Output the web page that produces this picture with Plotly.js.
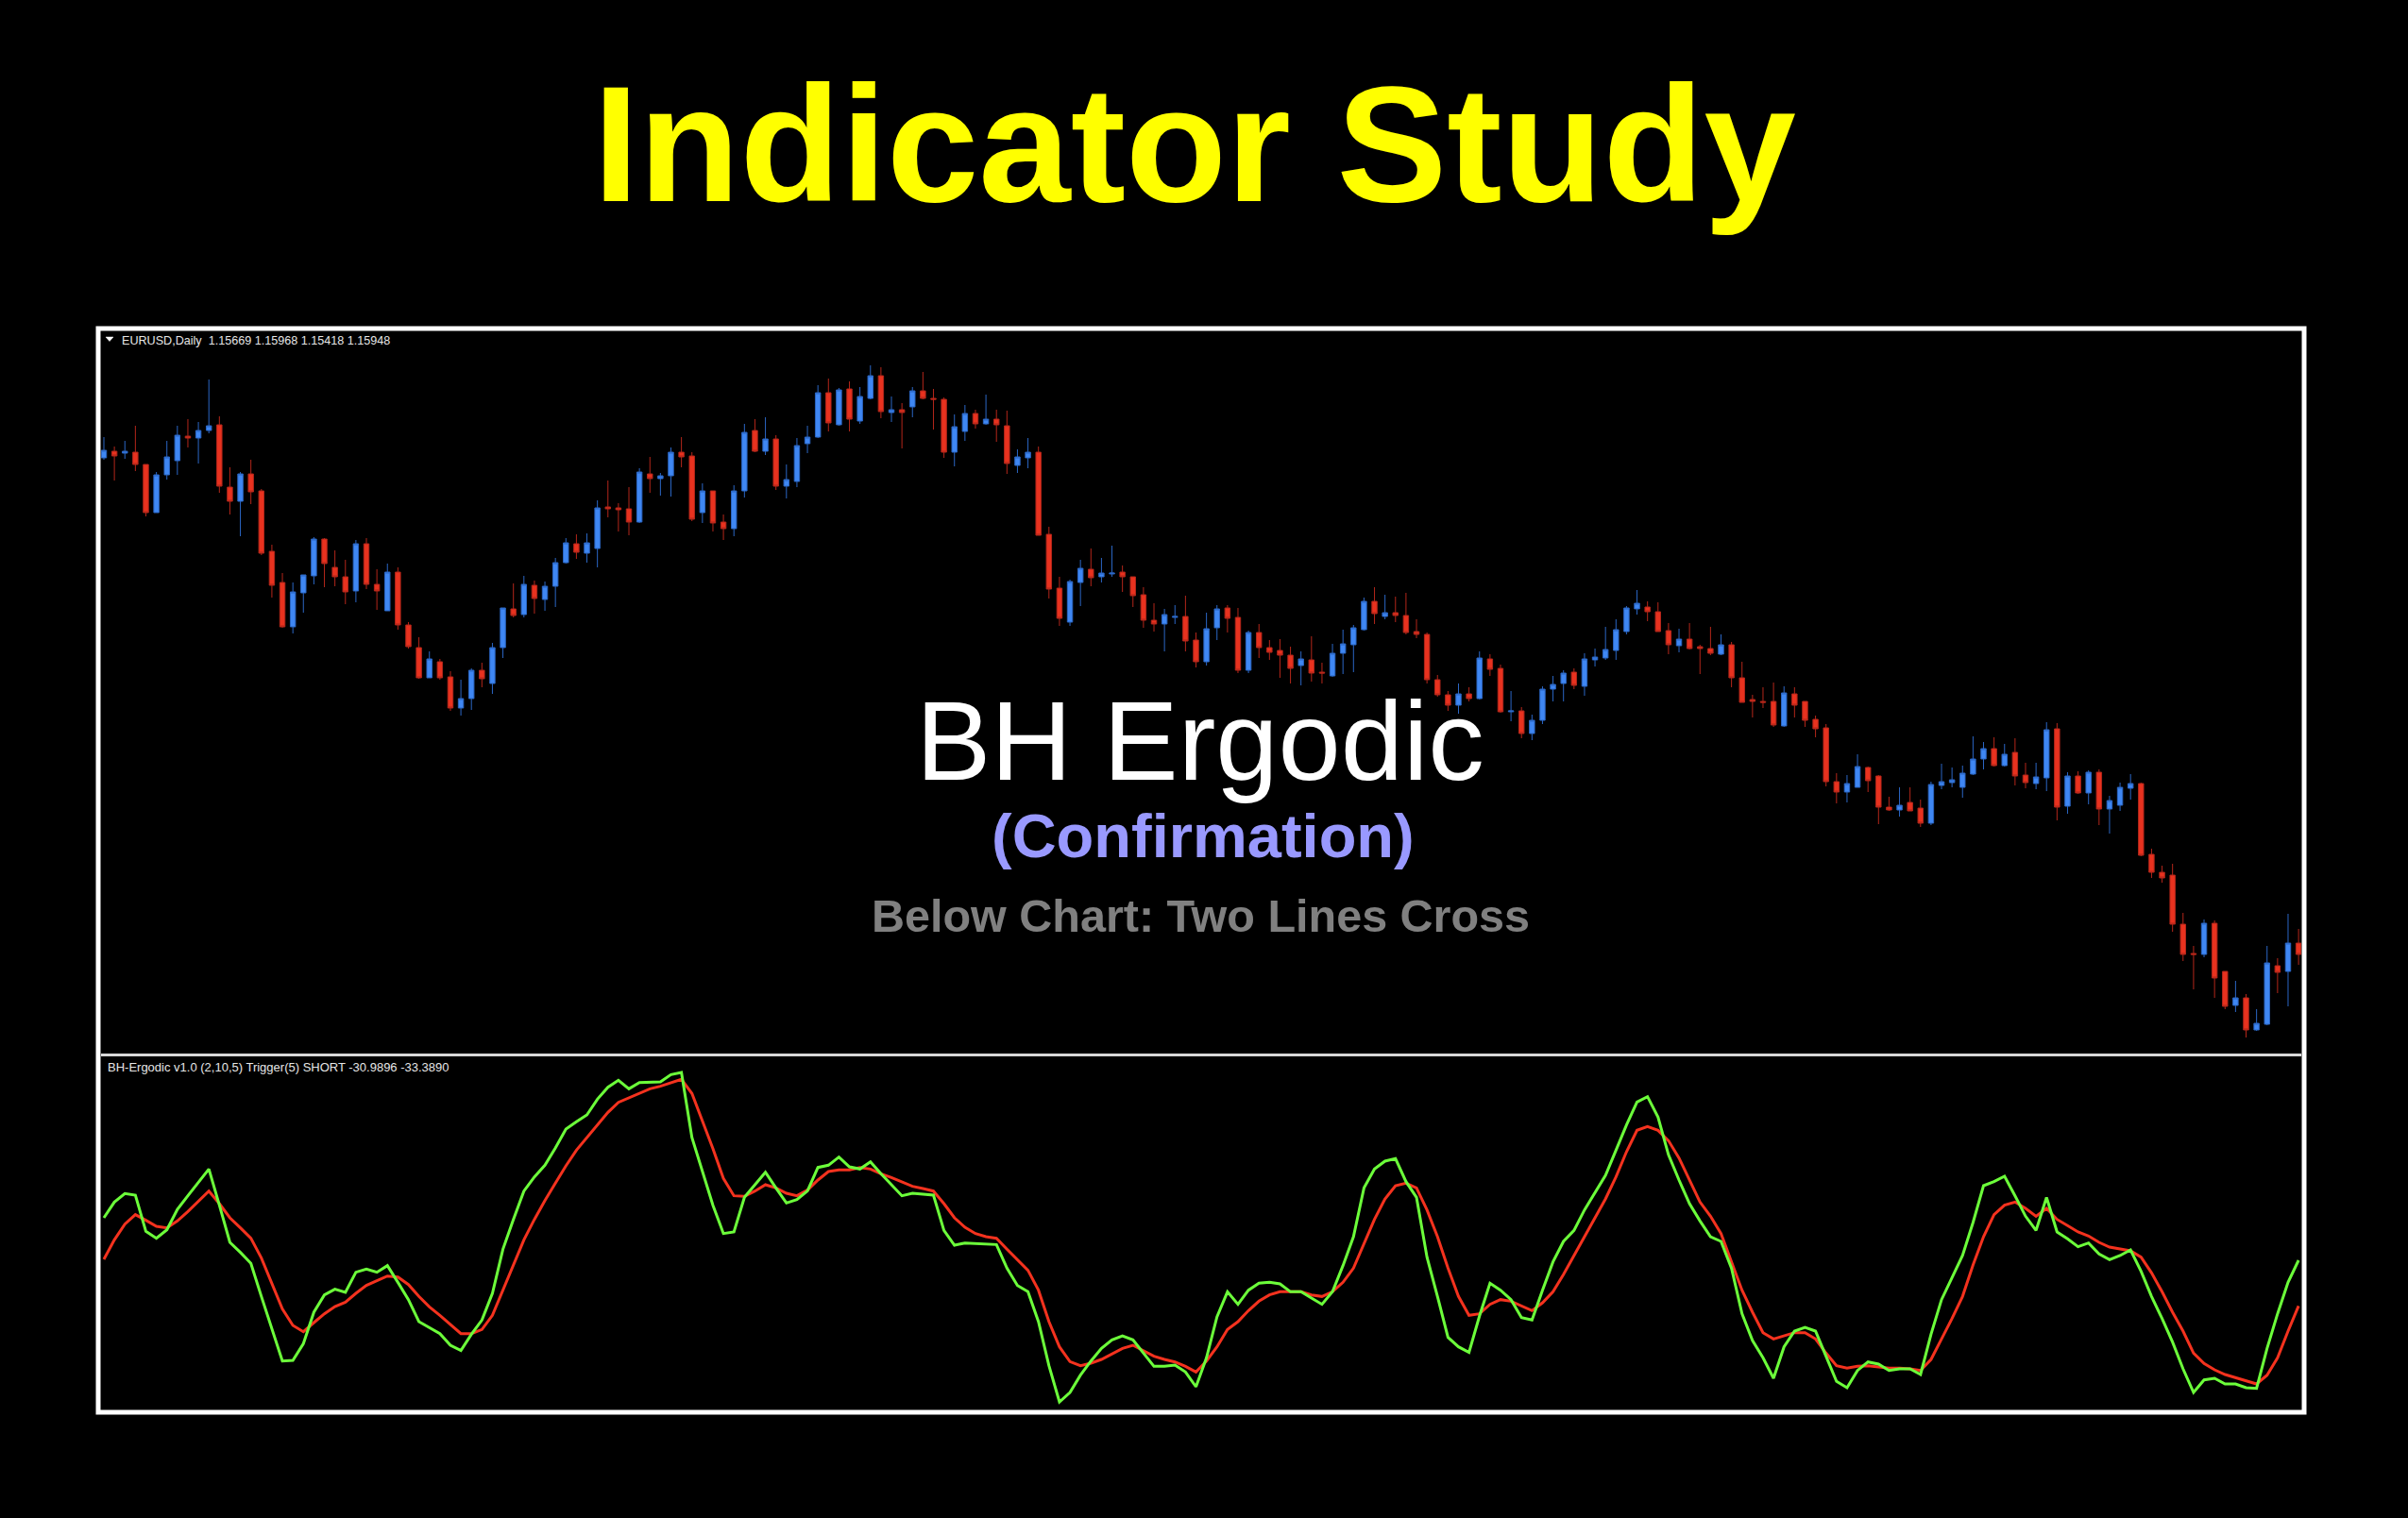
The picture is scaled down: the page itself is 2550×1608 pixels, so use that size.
<!DOCTYPE html>
<html><head><meta charset="utf-8">
<script src="https://cdn.plot.ly/plotly-3.0.1.min.js"></script>
<style>html,body{margin:0;padding:0;background:#000;}#chart{width:2550px;height:1608px;}</style>
</head><body><div id="chart"></div>
<script>
// ---- data ----
const headerText = "EURUSD,Daily\u00a0\u00a01.15669 1.15968 1.15418 1.15948";
const indicatorText = "BH-Ergodic v1.0 (2,10,5) Trigger(5) SHORT -30.9896 -33.3890";

const openP = [1.2121,1.2128,1.2126,1.2127,1.2114,1.2063,1.2103,1.2118,1.2144,1.2142,
1.2150,1.2156,1.2090,1.2075,1.2104,1.2086,1.2022,1.1989,1.1942,1.1978,
1.1996,1.2035,1.2005,1.1995,1.1980,1.2030,1.1987,1.1959,1.2000,1.1944,
1.1920,1.1888,1.1905,1.1889,1.1856,1.1866,1.1896,1.1882,1.1920,1.1961,
1.1955,1.1986,1.1971,1.1985,1.2010,1.2030,1.2020,1.2025,1.2069,1.2068,
1.2067,1.2053,1.2104,1.2099,1.2102,1.2127,1.2123,1.2063,1.2086,1.2053,
1.2046,1.2086,1.2150,1.2128,1.2141,1.2091,1.2096,1.2136,1.2143,1.2190,
1.2156,1.2194,1.2160,1.2184,1.2208,1.2169,1.2172,1.2175,1.2192,1.2184,
1.2183,1.2127,1.2149,1.2168,1.2157,1.2162,1.2155,1.2113,1.2121,1.2127,
1.2040,1.1983,1.1947,1.1989,1.2003,1.1995,1.1998,1.2000,1.1995,1.1976,
1.1949,1.1945,1.1952,1.1953,1.1928,1.1905,1.1941,1.1962,1.1952,1.1896,
1.1936,1.1920,1.1917,1.1912,1.1901,1.1907,1.1894,1.1890,1.1914,1.1923,
1.1939,1.1969,1.1953,1.1957,1.1954,1.1937,1.1934,1.1886,1.1870,1.1859,
1.1871,1.1866,1.1908,1.1898,1.1852,1.1853,1.1829,1.1843,1.1876,1.1882,
1.1894,1.1879,1.1907,1.1909,1.1917,1.1937,1.1961,1.1963,1.1958,1.1938,
1.1922,1.1929,1.1921,1.1919,1.1913,1.1923,1.1888,1.1865,1.1863,1.1863,
1.1837,1.1871,1.1863,1.1844,1.1835,1.1778,1.1767,1.1772,1.1793,1.1784,
1.1751,1.1748,1.1756,1.1750,1.1734,1.1774,1.1777,1.1772,1.1786,1.1802,
1.1813,1.1795,1.1809,1.1785,1.1776,1.1782,1.1834,1.1752,1.1784,1.1766,
1.1788,1.1749,1.1753,1.1771,1.1776,1.1701,1.1682,1.1679,1.1627,1.1596,
1.1595,1.1628,1.1577,1.1541,1.1549,1.1515,1.1521,1.1583,1.1577,1.1607];

const highP = [1.2143,1.2133,1.2139,1.2155,1.2114,1.2106,1.2139,1.2155,1.2162,1.2159,
1.2204,1.2165,1.2111,1.2106,1.2119,1.2088,1.2029,1.1999,1.1989,1.1997,
1.2037,1.2036,1.2023,1.2013,1.2034,1.2036,1.2003,1.2009,1.2005,1.1947,
1.1931,1.1916,1.1908,1.1895,1.1886,1.1898,1.1904,1.1925,1.1962,1.1988,
1.1996,1.1991,1.1990,1.2015,1.2036,1.2040,1.2041,1.2076,1.2097,1.2073,
1.2090,1.2110,1.2122,1.2105,1.2132,1.2143,1.2127,1.2094,1.2086,1.2061,
1.2092,1.2157,1.2162,1.2164,1.2145,1.2114,1.2142,1.2155,1.2198,1.2205,
1.2195,1.2202,1.2196,1.2219,1.2217,1.2186,1.2179,1.2196,1.2212,1.2194,
1.2185,1.2167,1.2177,1.2172,1.2188,1.2172,1.2171,1.2130,1.2142,1.2133,
1.2048,1.1995,1.1992,1.2013,1.2025,1.2015,1.2028,1.2007,1.1995,1.1984,
1.1967,1.1961,1.1965,1.1975,1.1936,1.1957,1.1965,1.1965,1.1962,1.1938,
1.1945,1.1928,1.1929,1.1921,1.1916,1.1932,1.1904,1.1924,1.1939,1.1944,
1.1973,1.1984,1.1976,1.1974,1.1978,1.1950,1.1936,1.1891,1.1874,1.1882,
1.1878,1.1916,1.1913,1.1902,1.1874,1.1857,1.1849,1.1879,1.1890,1.1896,
1.1898,1.1914,1.1919,1.1942,1.1950,1.1964,1.1981,1.1969,1.1968,1.1946,
1.1940,1.1946,1.1923,1.1942,1.1934,1.1926,1.1905,1.1870,1.1878,1.1883,
1.1879,1.1878,1.1863,1.1848,1.1839,1.1787,1.1785,1.1807,1.1794,1.1785,
1.1762,1.1772,1.1772,1.1759,1.1778,1.1797,1.1793,1.1795,1.1826,1.1820,
1.1825,1.1818,1.1824,1.1798,1.1798,1.1841,1.1840,1.1788,1.1789,1.1790,
1.1791,1.1763,1.1777,1.1786,1.1777,1.1707,1.1689,1.1691,1.1639,1.1604,
1.1632,1.1631,1.1577,1.1567,1.1553,1.1537,1.1604,1.1591,1.1638,1.1622];

const lowP = [1.2119,1.2097,1.2120,1.2107,1.2059,1.2063,1.2098,1.2103,1.2132,1.2115,
1.2147,1.2084,1.2061,1.2038,1.2072,1.2018,1.1973,1.1941,1.1935,1.1957,
1.1987,1.1984,1.1985,1.1966,1.1968,1.1982,1.1960,1.1959,1.1939,1.1919,
1.1887,1.1888,1.1886,1.1853,1.1848,1.1854,1.1878,1.1871,1.1909,1.1952,
1.1952,1.1956,1.1959,1.1963,1.2009,1.2014,1.2010,1.2005,1.2058,1.2043,
1.2039,1.2052,1.2084,1.2081,1.2080,1.2111,1.2054,1.2052,1.2043,1.2034,
1.2038,1.2079,1.2127,1.2124,1.2087,1.2078,1.2090,1.2126,1.2142,1.2149,
1.2155,1.2149,1.2157,1.2183,1.2163,1.2159,1.2131,1.2164,1.2183,1.2151,
1.2121,1.2112,1.2139,1.2152,1.2156,1.2138,1.2104,1.2105,1.2110,1.2039,
1.1972,1.1943,1.1943,1.1964,1.1985,1.1989,1.1995,1.1979,1.1963,1.1941,
1.1937,1.1916,1.1945,1.1916,1.1899,1.1901,1.1928,1.1936,1.1893,1.1893,
1.1909,1.1907,1.1888,1.1882,1.1880,1.1884,1.1882,1.1889,1.1892,1.1894,
1.1938,1.1945,1.1950,1.1947,1.1934,1.1930,1.1882,1.1868,1.1853,1.1850,
1.1863,1.1865,1.1890,1.1851,1.1842,1.1824,1.1822,1.1839,1.1863,1.1863,
1.1876,1.1869,1.1900,1.1907,1.1907,1.1934,1.1955,1.1948,1.1937,1.1913,
1.1915,1.1918,1.1892,1.1912,1.1912,1.1878,1.1862,1.1846,1.1856,1.1836,
1.1836,1.1846,1.1836,1.1825,1.1773,1.1755,1.1756,1.1772,1.1767,1.1733,
1.1747,1.1741,1.1747,1.1730,1.1732,1.1770,1.1772,1.1761,1.1785,1.1791,
1.1794,1.1794,1.1774,1.1771,1.1770,1.1768,1.1737,1.1744,1.1765,1.1754,
1.1732,1.1723,1.1747,1.1759,1.1699,1.1676,1.1671,1.1619,1.1588,1.1558,
1.1592,1.1549,1.1537,1.1534,1.1507,1.1514,1.1520,1.1554,1.1540,1.1584];

const closeP = [1.2129,1.2123,1.2128,1.2114,1.2063,1.2103,1.2122,1.2145,1.2142,1.2150,
1.2155,1.2091,1.2075,1.2104,1.2085,1.2020,1.1986,1.1942,1.1979,1.1997,
1.2035,1.2009,1.1995,1.1979,1.2030,1.1987,1.1980,1.2000,1.1944,1.1921,
1.1888,1.1908,1.1888,1.1856,1.1866,1.1896,1.1887,1.1920,1.1962,1.1954,
1.1987,1.1972,1.1985,1.2010,1.2031,1.2021,1.2031,1.2068,1.2067,1.2066,
1.2053,1.2106,1.2099,1.2102,1.2127,1.2122,1.2056,1.2086,1.2052,1.2046,
1.2086,1.2148,1.2128,1.2141,1.2091,1.2098,1.2134,1.2143,1.2190,1.2158,
1.2193,1.2162,1.2186,1.2208,1.2170,1.2172,1.2169,1.2192,1.2184,1.2183,
1.2127,1.2154,1.2168,1.2157,1.2162,1.2156,1.2115,1.2122,1.2127,1.2039,
1.1982,1.1951,1.1990,1.2004,1.1994,1.1999,1.1999,1.1995,1.1975,1.1949,
1.1945,1.1955,1.1953,1.1927,1.1905,1.1940,1.1961,1.1951,1.1896,1.1936,
1.1920,1.1915,1.1912,1.1898,1.1908,1.1893,1.1893,1.1914,1.1924,1.1941,
1.1969,1.1956,1.1957,1.1954,1.1936,1.1934,1.1886,1.1870,1.1859,1.1871,
1.1866,1.1909,1.1897,1.1852,1.1853,1.1829,1.1843,1.1876,1.1881,1.1893,
1.1880,1.1908,1.1910,1.1918,1.1939,1.1962,1.1967,1.1958,1.1937,1.1923,
1.1929,1.1919,1.1919,1.1914,1.1923,1.1888,1.1862,1.1863,1.1862,1.1838,
1.1872,1.1859,1.1843,1.1834,1.1778,1.1767,1.1776,1.1794,1.1779,1.1751,
1.1748,1.1753,1.1747,1.1734,1.1775,1.1778,1.1780,1.1787,1.1802,1.1813,
1.1795,1.1807,1.1784,1.1777,1.1783,1.1833,1.1751,1.1784,1.1766,1.1788,
1.1749,1.1758,1.1772,1.1776,1.1700,1.1682,1.1676,1.1627,1.1595,1.1595,
1.1628,1.1570,1.1540,1.1549,1.1515,1.1522,1.1586,1.1576,1.1607,1.1595];

// BH-Ergodic main line (green) and trigger line (red)
const ergodic = [22,32,37.4,36.4,13.4,9,14.4,27.4,36,44.6,
53,30,6.4,0,-7,-28,-48,-69,-68.6,-58,
-38,-27,-23.4,-25.4,-12.6,-10.6,-12.6,-8.4,-19,-30,
-44,-48,-51.6,-59,-62.4,-52,-43,-26,2,21,
39,48,55.4,66.4,78.4,83,87.4,97.4,105,109.4,
104,108,108.4,108.4,113,114.4,73,52,30,12,
13,35,43,51,41,31.4,33.6,39,54,55.4,
60.6,54.4,53,57.6,50,43,36,37.6,37,36.4,
14,4.6,6,5.6,5.6,5,-10,-21,-25,-44,
-72,-95,-89,-78,-69,-61,-55.6,-53,-55.6,-64,
-72.4,-72.4,-71.6,-76,-85.4,-67,-41,-25,-33,-24,
-19.6,-19,-20,-25,-25,-29,-33,-25,-8.4,10,
41,53,58,59.6,45,35,-3,-28,-54,-60,
-63.6,-40.4,-19.6,-24,-30,-41.4,-43,-24,-6,7,
14,27,38,49,65,81,95.6,99,86,62,
46,31,20,10,7,-10,-39,-56,-67,-80,
-60,-50,-47.6,-50,-66,-82,-86,-75,-69.6,-71,
-75,-74,-74,-77.6,-52,-30,-16,-2,19,42.4,
45,48.4,36,23,14,35,13,8.6,3.6,6,
-1,-4.6,-2,1.6,-12,-28,-42,-57,-74,-89,
-81,-80,-83.6,-83.6,-86,-86.4,-61,-39,-19,-5];

const trigger = [-4.4,8,18,24,20.4,16.6,15.6,20,26,32.4,
39,31,22,15.6,9,-3.6,-19.6,-36,-46.4,-50.4,
-44.6,-39,-34.4,-31.6,-26,-21,-18,-15,-15.6,-20.4,
-28,-34.6,-40,-46,-51.6,-51.6,-49,-40,-24,-7,
8,21,33,44,55,65,73,81,89,95.4,
98.4,101.4,104,105.6,107.6,110,101,84,66,47,
36,35.6,39,43,41,37.6,36,39.6,46,51.4,
52.4,52.4,54,53,50,47.6,45,42,40.6,39,
31,22,16,12,10,9,2,-5,-11.4,-24,
-44,-60,-69.4,-72,-70.4,-68,-64.4,-61,-59,-62.4,
-66,-68,-69.6,-72.4,-76,-69,-60,-49,-44,-37,
-31,-27,-25,-25,-25,-27,-28,-25,-19,-10,
5,21,34,42.4,44,41,27,10,-10,-28,
-40,-39,-33,-30,-31,-34,-37,-32,-25,-14,
-2,10,22,34,48,64,77.6,80,77.6,71,
60,46,32,23,12,-6,-24,-38,-51,-55,
-53,-51,-51,-55,-64,-72,-73.6,-72.4,-72,-73,
-73.6,-73.6,-74,-75,-68,-55,-42,-28,-8,10,
24,30,32,28,23,28,21,17,13,10.4,
6.4,3.4,2,1,-3,-13,-25,-38,-50,-64,
-70.6,-74.6,-77.6,-79.6,-81.6,-83.6,-78,-67,-50,-34];

// bar index (one daily bar per position)
const barIdx = openP.map((_, i) => i + 1);

// ---- layout geometry (pixels of the 2550x1608 page) ----
const W = 2550, H = 1608;
const L = 107, R = 2437, T = 351, B = 1493;
const pw = R - L, ph = B - T;
const px = x => (x - L) / pw;
const py = y => (B - y) / ph;

const BLUE = '#3F87F3', BLUE_LINE = '#2B66C4';
const RED = '#E8321F', RED_LINE = '#B3261A';

const traces = [
  {
    type: 'candlestick', x: barIdx, open: openP, high: highP, low: lowP, close: closeP,
    xaxis: 'x', yaxis: 'y',
    increasing: {line: {color: BLUE_LINE, width: 1}, fillcolor: BLUE},
    decreasing: {line: {color: RED_LINE, width: 1}, fillcolor: RED},
    whiskerwidth: 0, hoverinfo: 'skip', showlegend: false
  },
  {
    type: 'scatter', mode: 'lines', x: barIdx, y: trigger, xaxis: 'x', yaxis: 'y2',
    line: {color: '#F4321E', width: 3}, hoverinfo: 'skip', showlegend: false
  },
  {
    type: 'scatter', mode: 'lines', x: barIdx, y: ergodic, xaxis: 'x', yaxis: 'y2',
    line: {color: '#6CFF3A', width: 3}, hoverinfo: 'skip', showlegend: false
  }
];

const hidden = {visible: false, showgrid: false, zeroline: false, fixedrange: true};

const FONT = 'Liberation Sans, Arial, Helvetica, sans-serif';

const layout = {
  width: W, height: H, autosize: false,
  paper_bgcolor: '#000000', plot_bgcolor: '#000000',
  margin: {l: L, r: W - R, t: T, b: H - B, pad: 0},
  showlegend: false, hovermode: false,
  xaxis: Object.assign({}, hidden, {range: [0.73, 210.26], rangeslider: {visible: false}}),
  yaxis: Object.assign({}, hidden, {domain: [py(1116), 1], range: [1.1490, 1.2255]}),
  yaxis2: Object.assign({}, hidden, {domain: [0, py(1119)], range: [-99.8, 124.6], anchor: 'x'}),
  shapes: [
    {type: 'rect', xref: 'paper', yref: 'paper', x0: px(104), x1: px(2440), y0: py(1496), y1: py(348),
     line: {color: '#FFFFFF', width: 5}, fillcolor: 'rgba(0,0,0,0)', layer: 'above'},
    {type: 'line', xref: 'paper', yref: 'paper', x0: 0, x1: 1, y0: py(1117.5), y1: py(1117.5),
     line: {color: '#D8D8D8', width: 3}, layer: 'above'},
    {type: 'path', xref: 'paper', yref: 'paper',
     path: `M ${px(112)},${py(357)} L ${px(120)},${py(357)} L ${px(116)},${py(361.5)} Z`,
     fillcolor: '#FFFFFF', line: {color: '#FFFFFF', width: 0.5}, layer: 'above'}
  ],
  annotations: [
    {text: 'Indicator Study', xref: 'paper', yref: 'paper', x: px(1265), y: py(153),
     xanchor: 'center', yanchor: 'middle', showarrow: false,
     font: {family: FONT, size: 175, color: '#FFFF00', weight: 700}},
    {text: 'BH Ergodic', xref: 'paper', yref: 'paper', x: px(1271), y: py(784.5),
     xanchor: 'center', yanchor: 'middle', showarrow: false,
     font: {family: FONT, size: 119, color: '#FFFFFF'}},
    {text: '(Confirmation)', xref: 'paper', yref: 'paper', x: px(1274), y: py(885),
     xanchor: 'center', yanchor: 'middle', showarrow: false,
     font: {family: FONT, size: 65, color: '#9999FF', weight: 700}},
    {text: 'Below Chart: Two Lines Cross', xref: 'paper', yref: 'paper', x: px(1271.5), y: py(970),
     xanchor: 'center', yanchor: 'middle', showarrow: false,
     font: {family: FONT, size: 48.5, color: '#808080', weight: 700}},
    {text: headerText, xref: 'paper', yref: 'paper', x: px(126.5), y: py(360.5),
     xanchor: 'left', yanchor: 'middle', showarrow: false,
     font: {family: FONT, size: 12.6, color: '#E6E6E6'}},
    {text: indicatorText, xref: 'paper', yref: 'paper', x: px(111.5), y: py(1130),
     xanchor: 'left', yanchor: 'middle', showarrow: false,
     font: {family: FONT, size: 13, color: '#E6E6E6'}}
  ]
};

Plotly.newPlot('chart', traces, layout, {staticPlot: true, displayModeBar: false});
</script>
</body></html>
